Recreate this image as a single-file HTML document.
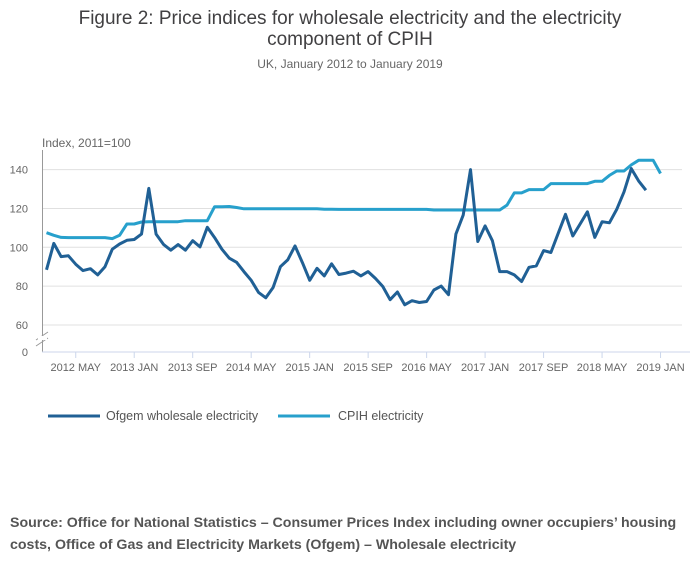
<!DOCTYPE html>
<html><head><meta charset="utf-8"><style>
body{margin:0;background:#fff;font-family:"Liberation Sans",sans-serif;}
#wrap{position:relative;width:700px;height:574px;overflow:hidden;}
</style></head><body>
<div id="wrap">
<svg id="chart" width="700" height="574" xmlns="http://www.w3.org/2000/svg">
<text x="350" y="24" text-anchor="middle" font-size="19" fill="#414042">Figure 2: Price indices for wholesale electricity and the electricity</text>
<text x="350" y="45" text-anchor="middle" font-size="19" fill="#414042">component of CPIH</text>
<text x="350" y="68" text-anchor="middle" font-size="12" fill="#666">UK, January 2012 to January 2019</text>
<text x="42" y="147" font-size="12" fill="#666">Index, 2011=100</text>
<g id="grid"></g>
<g id="axes"></g>
<g id="series"></g>
<g>
<line x1="48" y1="416" x2="100" y2="416" stroke="#206095" stroke-width="3"/>
<text x="106" y="420" font-size="12.5" fill="#555">Ofgem wholesale electricity</text>
<line x1="278" y1="416" x2="330" y2="416" stroke="#27a0cc" stroke-width="3"/>
<text x="338" y="420" font-size="12.5" fill="#555">CPIH electricity</text>
</g>
<text x="10" y="527" font-size="14.2" font-weight="bold" fill="#555">Source: Office for National Statistics – Consumer Prices Index including owner occupiers’ housing</text>
<text x="10" y="549" font-size="14.2" font-weight="bold" fill="#555">costs, Office of Gas and Electricity Markets (Ofgem) – Wholesale electricity</text>
</svg>
</div>
<script>
const yTicks=[60,80,100,120,140];
const xTickLabels=["2012 MAY","2013 JAN","2013 SEP","2014 MAY","2015 JAN","2015 SEP","2016 MAY","2017 JAN","2017 SEP","2018 MAY","2019 JAN"];
const xTickMonths=[4,12,20,28,36,44,52,60,68,76,84];
const wholesale=[88.4,102,95.2,95.6,91.3,88,89,85.8,90,99,101.7,103.6,104,106.8,130.3,106.8,101.5,98.5,101.4,98.5,103.4,100.2,110.3,105,99,94.4,92.3,87.5,83,76.8,74,79.3,90,93.5,100.7,92.1,83,89.2,85.3,91.5,86,86.7,87.7,85.3,87.5,84,79.8,73,77,70.4,72.5,71.6,72.1,78,80,75.6,106.8,116.6,140,103,111,103.4,87.5,87.5,85.8,82.4,89.7,90.4,98.3,97.3,107.2,117,105.8,112,118.3,105.1,113.2,112.6,119.5,128.5,140.5,134.2,129.4];
const cpih=[107.5,106.2,105.1,105,105,105,105,105,105,104.5,106.2,112,112,113,113.2,113.2,113.2,113.2,113.2,113.7,113.7,113.7,113.7,120.9,120.9,121,120.5,119.8,119.8,119.8,119.8,119.8,119.8,119.8,119.8,119.8,119.8,119.8,119.6,119.6,119.5,119.5,119.5,119.5,119.5,119.5,119.5,119.5,119.5,119.5,119.5,119.5,119.5,119.2,119.2,119.2,119.2,119.2,119.2,119.2,119.2,119.2,119.2,121.7,128,128,129.7,129.7,129.7,132.8,132.8,132.8,132.8,132.8,132.8,134,134,137,139.3,139.3,142.4,144.8,144.8,144.8,138];
const NS="http://www.w3.org/2000/svg";
function xS(m){return 46.5+m*7.31;}
function yS(v){return 325-(v-60)*1.9425;}
function mk(tag,attrs,parent){const e=document.createElementNS(NS,tag);for(const k in attrs)e.setAttribute(k,attrs[k]);parent.appendChild(e);return e;}
const grid=document.getElementById('grid'),axes=document.getElementById('axes'),series=document.getElementById('series');
yTicks.forEach(v=>{
 const l=mk('line',{x1:42,x2:682,y1:yS(v),y2:yS(v),stroke:'#e0e0e0','stroke-width':1},grid);
 
 
 const t=mk('text',{x:28,y:yS(v)+4,'text-anchor':'end','font-size':11,fill:'#666'},axes);
 t.textContent=v;
 
 
});
const z=mk('text',{x:28,y:356,'text-anchor':'end','font-size':11,fill:'#666'},axes);
z.textContent='0';


const ya=mk('line',{x1:42.5,x2:42.5,y1:150,y2:352,stroke:'#999','stroke-width':1},axes);


const br=mk('path',{d:'M36 340 L48 332 M36 346 L48 338',stroke:'#999','stroke-width':1,fill:'none'},axes);


mk('rect',{x:38,y:336,width:9,height:4,fill:'#fff'},axes);
const xa=mk('line',{x1:42,x2:690,y1:352,y2:352,stroke:'#ccd6eb','stroke-width':1},axes);


xTickLabels.forEach((lab,i)=>{
 const x=xS(xTickMonths[i]);
 const tk=mk('line',{x1:x,x2:x,y1:352,y2:358,stroke:'#ccd6eb'},axes);
 
 
 const t=mk('text',{x:x,y:371,'text-anchor':'middle','font-size':11,fill:'#666'},axes);
 t.textContent=lab;
 
 
});
function line(vals,color,name){
 const d=vals.map((v,i)=>(i?'L':'M')+xS(i).toFixed(1)+' '+yS(v).toFixed(1)).join(' ');
 const p=mk('path',{d:d,stroke:color,'stroke-width':3,fill:'none','stroke-linejoin':'round'},series);
 
 
}
line(cpih,'#27a0cc','cpih-electricity-line');
line(wholesale,'#206095','wholesale-electricity-line');
</script>
</body></html>
